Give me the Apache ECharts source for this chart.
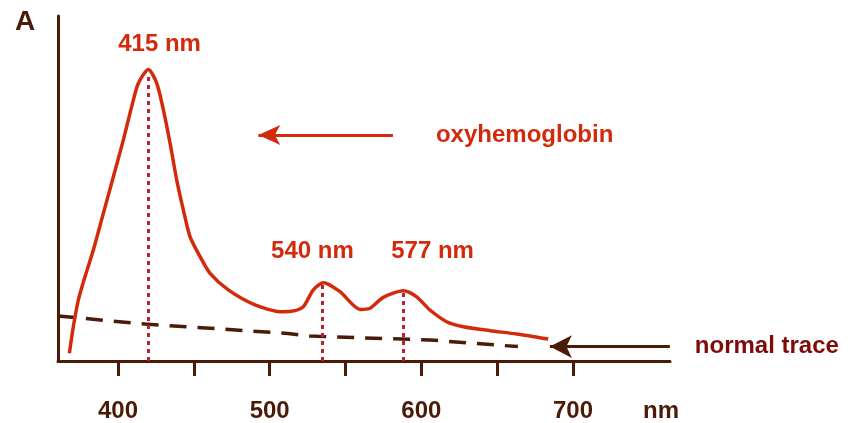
<!DOCTYPE html>
<html>
<head>
<meta charset="utf-8">
<script src="https://cdn.jsdelivr.net/npm/echarts@6/dist/echarts.min.js"></script>
<style>
html,body{margin:0;padding:0;background:#fff;}
#chart{width:856px;height:423px;}
</style>
</head>
<body>
<div id="chart"></div>
<script>
// Wavelength (nm) and absorbance (arbitrary units)
const oxyNm = [367.9, 370.5, 373.8, 378.2, 383.7, 390.3, 396.9, 403.5, 409.0, 413.4, 420.0, 425.5, 429.9, 434.3, 438.7, 443.1, 447.5, 454.1, 460.7, 472.7, 490.3, 507.9, 516.7, 522.2, 528.8, 535.4, 546.4, 559.6, 566.2, 574.9, 588.1, 596.9, 605.7, 616.7, 627.7, 645.3, 662.9, 683.7];
const oxyA  = [0.026, 0.114, 0.203, 0.281, 0.370, 0.492, 0.614, 0.737, 0.848, 0.926, 0.972, 0.926, 0.837, 0.726, 0.603, 0.503, 0.414, 0.348, 0.292, 0.237, 0.187, 0.164, 0.168, 0.181, 0.237, 0.261, 0.231, 0.172, 0.176, 0.212, 0.234, 0.214, 0.170, 0.131, 0.114, 0.101, 0.090, 0.073];
const normalNm = [360.4, 417.8, 512.1, 526.6, 605.7, 663.7];
const normalA  = [0.150, 0.123, 0.092, 0.083, 0.070, 0.048];

// Peak markers (dotted drop lines) and their labels
const peakNm = [420.0, 534.5, 587.9];
const peakA  = [0.955, 0.258, 0.232];
const peakLabels = ['415 nm', '540 nm', '577 nm'];
const peakLabelNm = [427.4, 528.2, 607.4];
const peakLabelA  = [1.057, 0.366, 0.366];

// Arrows: [startNm, tipNm, A] and label
const oxyArrow = [581.3, 492.5, 0.753];
const oxyLabel = 'oxyhemoglobin';
const normalArrow = [763.9, 684.8, 0.048];
const normalLabel = 'normal trace';

// Axis ticks / labels
const tickValues = [400, 450, 500, 550, 600, 650, 700];
const labelValues = [400, 500, 600, 700];
const xName = 'nm';
const yName = 'A';

const RED = '#d42a0c';
const DOT = '#b8232f';
const BROWN = '#4a1c08';
const MAROON = '#7f0a0a';
const FONT = '"Liberation Sans", Arial, sans-serif';

const chart = echarts.init(document.getElementById('chart'), null, {renderer: 'canvas'});

const zip = (a, b) => a.map((v, i) => [v, b[i]]);

chart.setOption({
  animation: false,
  backgroundColor: '#ffffff',
  grid: {left: 58, right: 186, top: 16, bottom: 62, containLabel: false, outerBoundsMode: 'none'},
  xAxis: {
    type: 'value', min: 360.4, max: 764,
    name: xName, nameLocation: 'end', nameGap: -27, nameMoveOverlap: false,
    nameTextStyle: {color: BROWN, fontFamily: FONT, fontWeight: 'bold', fontSize: 24, verticalAlign: 'top', align: 'left', padding: [38, 0, 0, 0]},
    axisLine: {show: true, onZero: false, lineStyle: {color: BROWN, width: 3}},
    axisTick: {show: true, customValues: tickValues, length: 15, inside: false, lineStyle: {color: BROWN, width: 3}},
    axisLabel: {show: true, customValues: labelValues, margin: 38, color: BROWN, fontFamily: FONT, fontWeight: 'bold', fontSize: 24},
    splitLine: {show: false}
  },
  yAxis: {
    type: 'value', min: 0, max: 1.15,
    name: yName, nameLocation: 'end', nameGap: -20,
    nameTextStyle: {color: BROWN, fontFamily: FONT, fontWeight: 'bold', fontSize: 28, padding: [0, 66, 0, 0]},
    axisLine: {show: true, lineStyle: {color: BROWN, width: 3}},
    axisTick: {show: false},
    axisLabel: {show: false},
    splitLine: {show: false}
  },
  series: [
    {
      name: 'oxyhemoglobin', type: 'line', data: zip(oxyNm, oxyA),
      smooth: 0.25, symbol: 'none',
      lineStyle: {color: RED, width: 3.5},
      itemStyle: {color: RED},
      z: 3,
      markLine: {
        silent: true, symbol: ['none', 'none'],
        lineStyle: {color: DOT, width: 3, type: [4, 4]},
        label: {show: false},
        data: peakNm.map((x, i) => [{coord: [x, 0]}, {coord: [x, peakA[i]]}])
      },
      markPoint: {
        silent: true, symbol: 'circle', symbolSize: 0,
        label: {show: true, position: 'inside', color: RED, fontFamily: FONT, fontWeight: 'bold', fontSize: 24},
        data: peakLabels.map((t, i) => ({coord: [peakLabelNm[i], peakLabelA[i]], value: t, label: {formatter: t}}))
      }
    },
    {
      name: 'oxy-arrow', type: 'line', data: [], symbol: 'none',
      markLine: {
        silent: true, symbol: ['none', 'arrow'], symbolSize: [15, 22],
        itemStyle: {color: RED},
        lineStyle: {color: RED, width: 3, type: 'solid'},
        label: {show: true, position: 'start', distance: 43, formatter: oxyLabel, color: RED, fontFamily: FONT, fontWeight: 'bold', fontSize: 24},
        data: [[{coord: [oxyArrow[0], oxyArrow[2]]}, {coord: [oxyArrow[1], oxyArrow[2]]}]]
      }
    },
    {
      name: 'normal trace', type: 'line', data: zip(normalNm, normalA),
      symbol: 'none',
      lineStyle: {color: BROWN, width: 3.5, type: [17, 11]},
      itemStyle: {color: BROWN},
      z: 2,
      markLine: {
        silent: true, symbol: ['none', 'arrow'], symbolSize: [17, 22],
        itemStyle: {color: BROWN},
        lineStyle: {color: BROWN, width: 3, type: 'solid'},
        label: {show: true, position: 'start', distance: 25, formatter: normalLabel, color: MAROON, fontFamily: FONT, fontWeight: 'bold', fontSize: 24},
        data: [[{coord: [normalArrow[0], normalArrow[2]]}, {coord: [normalArrow[1], normalArrow[2]]}]]
      }
    }
  ]
});
</script>
</body>
</html>
